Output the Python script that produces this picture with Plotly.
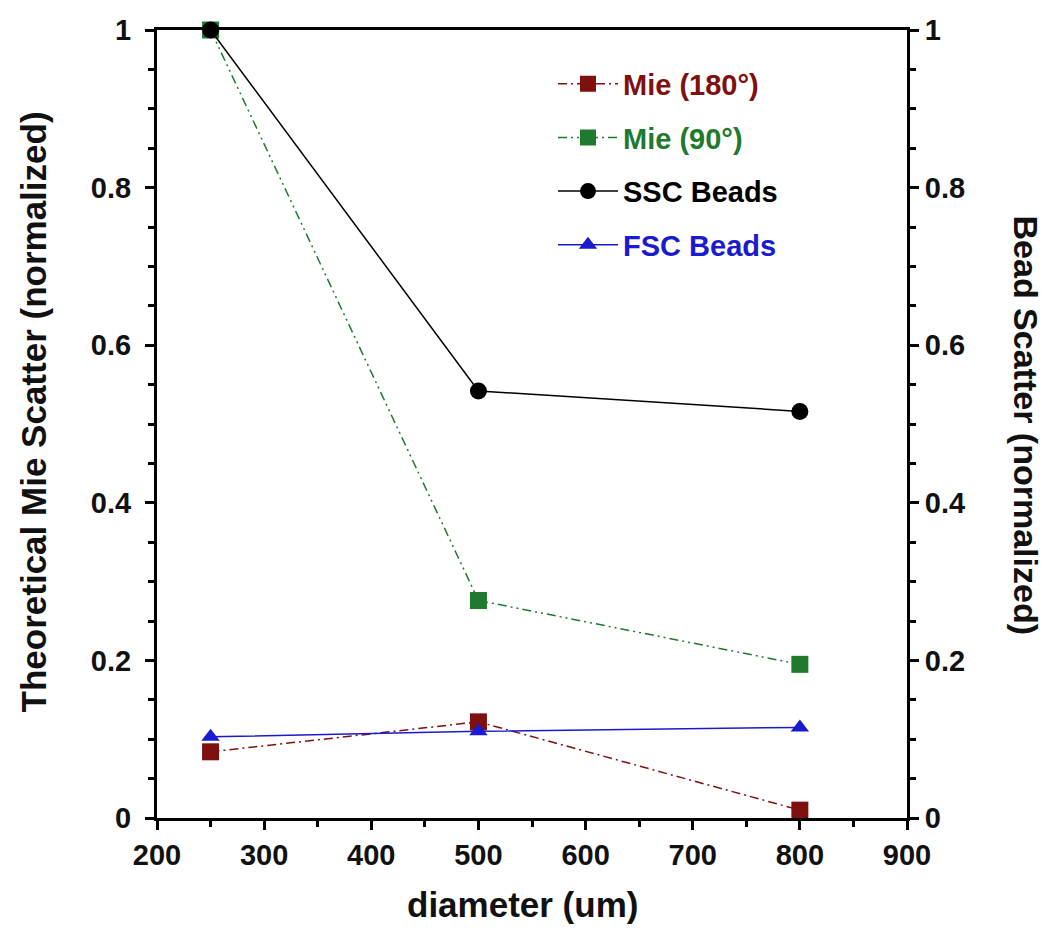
import plotly.graph_objects as go

diameter = [250, 500, 800]
mie_180 = [0.084, 0.122, 0.010]
mie_90 = [1.0, 0.276, 0.195]
ssc_beads = [1.0, 0.542, 0.516]
fsc_beads = [0.103, 0.110, 0.115]

x_ticks = [200, 300, 400, 500, 600, 700, 800, 900]
y_ticks = [0, 0.2, 0.4, 0.6, 0.8, 1]

RED = "#7f1010"
GREEN = "#1f7a2e"
BLACK = "#000000"
BLUE = "#1a1ad0"
FONT = "Liberation Sans"

fig = go.Figure()

fig.add_trace(go.Scatter(
    x=diameter, y=mie_180, mode="lines+markers",
    name=f"<span style='color:{RED}'>Mie (180°)</span>", legendgroup="a",
    line=dict(color=RED, width=1.5, dash="9px,4px,2px,4px"),
    marker=dict(symbol="square", size=17, color=RED),
    cliponaxis=False,
))
fig.add_trace(go.Scatter(
    x=diameter, y=mie_90, mode="lines+markers",
    name=f"<span style='color:{GREEN}'>Mie (90°)</span>", legendgroup="b",
    line=dict(color=GREEN, width=1.5, dash="9px,4px,2px,4px,2px,4px"),
    marker=dict(symbol="square", size=17, color=GREEN),
    cliponaxis=False,
))
fig.add_trace(go.Scatter(
    x=diameter, y=ssc_beads, mode="lines+markers", yaxis="y2",
    name=f"<span style='color:{BLACK}'>SSC Beads</span>", legendgroup="c",
    line=dict(color=BLACK, width=1.5),
    marker=dict(symbol="circle", size=17, color=BLACK),
    cliponaxis=False,
))
fig.add_trace(go.Scatter(
    x=diameter, y=fsc_beads, mode="lines+markers", yaxis="y2",
    name=f"<span style='color:{BLUE}'>FSC Beads</span>", legendgroup="d",
    line=dict(color=BLUE, width=1.5),
    marker=dict(symbol="triangle-up", size=16, color=BLUE),
    cliponaxis=False,
))

tickfont = dict(family=FONT, size=29, color="#111111", weight="bold")
axis_common = dict(
    showgrid=False, zeroline=False, showline=True, linecolor="black", linewidth=3,
    ticks="outside", ticklen=9, tickwidth=3, tickcolor="black", tickfont=tickfont,
)
title_font = dict(family=FONT, size=35, weight="bold", color="#111111")

fig.update_layout(
    width=1050, height=938,
    margin=dict(l=157, r=143, t=30, b=120),
    paper_bgcolor="white", plot_bgcolor="white",
    font=dict(family=FONT, color="#111111"),
    xaxis=dict(
        range=[200, 900], tickvals=x_ticks, mirror=True,
        minor=dict(dtick=50, ticks="outside", ticklen=6, tickwidth=3, tickcolor="black"),
        **axis_common,
    ),
    yaxis=dict(
        range=[0, 1], tickvals=y_ticks, ticklabelstandoff=8,
        minor=dict(dtick=0.05, ticks="outside", ticklen=6, tickwidth=3, tickcolor="black"),
        **axis_common,
    ),
    yaxis2=dict(
        range=[0, 1], tickvals=y_ticks, overlaying="y", side="right",
        minor=dict(dtick=0.05, ticks="outside", ticklen=6, tickwidth=3, tickcolor="black"),
        **axis_common,
    ),
    showlegend=True,
    legend=dict(
        x=0.528, y=0.964, xanchor="left", yanchor="top",
        bgcolor="rgba(0,0,0,0)", borderwidth=0,
        font=dict(family=FONT, size=29, weight="bold"),
        traceorder="grouped", tracegroupgap=13,
        itemwidth=60,
    ),
    annotations=[
        dict(text="diameter (um)", xref="paper", yref="paper", x=0.487, y=-0.11,
             showarrow=False, xanchor="center", yanchor="middle",
             font=title_font),
        dict(text="Theoretical Mie Scatter (normalized)", xref="paper", yref="paper",
             x=-0.165, y=0.515, textangle=-90, showarrow=False,
             xanchor="center", yanchor="middle",
             font=title_font),
        dict(text="Bead Scatter (normalized)", xref="paper", yref="paper",
             x=1.159, y=0.499, textangle=90, showarrow=False,
             xanchor="center", yanchor="middle",
             font=dict(family=FONT, size=34, weight="bold", color="#111111")),
    ],
)

fig.write_html("out.html", config={"displayModeBar": False},
               post_script="document.body.style.margin='0';")
